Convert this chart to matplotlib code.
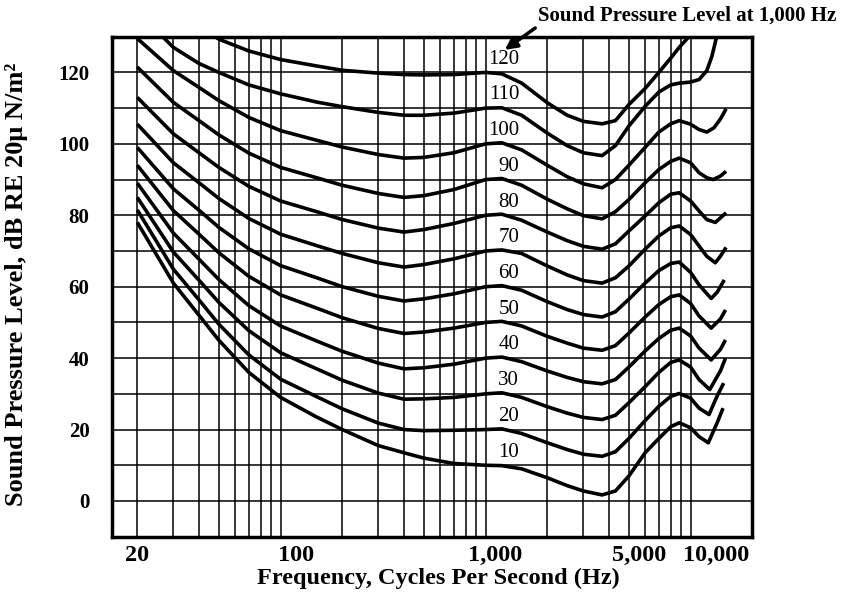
import matplotlib
matplotlib.use("Agg")
import matplotlib.pyplot as plt
from matplotlib.ticker import NullFormatter
from matplotlib.transforms import ScaledTranslation

plt.rcParams["font.family"] = ["Liberation Serif", "DejaVu Serif"]

# frequencies shared by every contour (Hz)
FREQ = [20, 30, 40, 50, 70, 100, 150, 200, 300, 400, 500, 700, 1000, 1200,
        1500, 2000, 2500, 3000, 3700, 4300, 5000, 6000, 7000, 8000, 8800, 10000]

# sound pressure level (dB) of each equal loudness contour at FREQ
spl_120 = [145, 138, 133, 129.3, 126, 123.6, 121.8, 120.6, 119.8, 119.4, 119.3, 119.4, 120,
           119.6, 117, 111.5, 108, 106.3, 105.6, 106.5, 111, 115.5, 120, 124, 127, 130.5]
spl_110 = [137, 127, 122.5, 120, 116.5, 114, 111.7, 110.4, 108.8, 108, 108, 108.6, 110,
           110.1, 108, 103, 99.5, 97.5, 96.7, 99.5, 105, 110.5, 114.5, 116.5, 117, 117.3]
spl_100 = [129.5, 120.5, 115.8, 112.1, 107.4, 103.7, 101, 99.1, 97, 96, 96.2, 97.5, 100,
           100.3, 98.3, 94, 90.8, 88.8, 87.7, 90, 94, 99, 103.3, 105.6, 106.5, 105.5]
spl_090 = [121.5, 111.6, 106.5, 102.5, 97.4, 93.4, 90.5, 88.4, 86.1, 85, 85.5, 87.2, 90,
           90.3, 88.4, 84.5, 81.8, 79.9, 79, 81, 84.4, 89.1, 92.8, 95.1, 96, 94.7]
spl_080 = [113, 102.8, 97.5, 93.4, 88.1, 84, 81, 78.8, 76.4, 75.3, 76, 77.7, 80,
           80.3, 78.6, 75.3, 72.9, 71.3, 70.5, 72, 75.6, 79.8, 83.5, 85.9, 86.3, 84]
spl_070 = [105.5, 94.7, 89.1, 84.7, 79.1, 74.7, 71.5, 69.3, 66.7, 65.5, 66.2, 67.8, 70,
           70.3, 69.3, 65.8, 63.3, 61.7, 61, 62.5, 65.8, 70.5, 74.2, 76.5, 77, 74.6]
spl_060 = [99, 87.4, 81.4, 76.6, 70.6, 65.9, 62.5, 60, 57.3, 56, 56.6, 58, 60,
           60.3, 59, 55.8, 53.6, 52.2, 51.5, 53, 56.5, 61, 64.5, 66.5, 66.9, 64]
spl_050 = [94, 81.3, 74.7, 69.5, 62.9, 57.7, 54, 51.3, 48.3, 46.9, 47.3, 48.4, 50,
           50.3, 49, 46.1, 44.2, 42.8, 42.2, 43.5, 47, 51.5, 55, 57.2, 57.7, 55.3]
spl_040 = [89, 75, 67.7, 62, 54.7, 49, 44.8, 41.9, 38.6, 37, 37.3, 38.3, 40,
           40.3, 39, 36.4, 34.6, 33.4, 32.8, 34, 37.5, 42, 45.5, 47.8, 48.4, 46.2]
spl_030 = [85, 69.7, 61.8, 55.6, 47.7, 41.5, 37, 33.8, 30.2, 28.5, 28.6, 29, 30,
           30.3, 29, 26.4, 24.6, 23.4, 22.8, 24, 27.5, 32, 36, 38.8, 39.5, 37.5]
spl_020 = [81.5, 64.9, 56.3, 49.5, 40.9, 34.1, 29.2, 25.8, 21.8, 20, 19.7, 19.8, 20,
           20.2, 18.9, 16.3, 14.4, 13.1, 12.5, 13.8, 17.5, 22.5, 26.5, 29.3, 30.1, 28.8]
spl_010 = [78, 61, 52, 45, 36, 29, 23.5, 20, 15.5, 13.5, 12, 10.5, 10,
           9.9, 9, 6.5, 4.3, 2.8, 1.7, 2.8, 7, 13.5, 17.5, 20.8, 21.9, 20.5]

# high frequency ends, above 10 kHz
tail_f_120, tail_120 = [11000], [134]
tail_f_110, tail_110 = [11000, 12000, 12700, 13400, 14000], [118, 120.5, 124.5, 130, 134]
tail_f_100, tail_100 = [11000, 12000, 13000, 14000, 14900], [104, 103.3, 104.5, 107, 109.8]
tail_f_090, tail_090 = [11000, 12000, 12900, 14000, 14900], [91.9, 90.5, 90, 91, 92.3]
tail_f_080, tail_080 = [11000, 12000, 13200, 14000, 14900], [81.2, 78.8, 78, 79.3, 80.7]
tail_f_070, tail_070 = [11000, 12000, 13200, 14000, 14900], [71.4, 68.5, 66.7, 68.6, 71]
tail_f_060, tail_060 = [11000, 12600, 13500, 14600], [60.5, 56.7, 58.5, 61.9]
tail_f_050, tail_050 = [11000, 12600, 14000, 14800], [51.8, 48.4, 51, 53.5]
tail_f_040, tail_040 = [11000, 12600, 14000, 14800], [42.8, 39.5, 42.5, 45.1]
tail_f_030, tail_030 = [11000, 12400, 14000, 14800], [34, 31.2, 36.5, 40]
tail_f_020, tail_020 = [11000, 12300, 13500, 14500], [26, 24.2, 29.5, 33]
tail_f_010, tail_010 = [11000, 12200, 13500, 14400], [18, 16.3, 22, 26]

PHONS = [120, 110, 100, 90, 80, 70, 60, 50, 40, 30, 20, 10]

XTICKS = [20, 100, 1000, 5000, 10000]
XTICK_LABELS = ["20", "100", "1,000", "5,000", "10,000"]
XGRID = [20, 30, 40, 50, 60, 70, 80, 90,
         100, 200, 300, 400, 500, 600, 700, 800, 900,
         1000, 2000, 3000, 4000, 5000, 6000, 7000, 8000, 9000, 10000]
YTICKS = [0, 20, 40, 60, 80, 100, 120]
YGRID = [10, 30, 50, 70, 90, 110]

curves = [
    (spl_120, tail_f_120, tail_120), (spl_110, tail_f_110, tail_110),
    (spl_100, tail_f_100, tail_100), (spl_090, tail_f_090, tail_090),
    (spl_080, tail_f_080, tail_080), (spl_070, tail_f_070, tail_070),
    (spl_060, tail_f_060, tail_060), (spl_050, tail_f_050, tail_050),
    (spl_040, tail_f_040, tail_040), (spl_030, tail_f_030, tail_030),
    (spl_020, tail_f_020, tail_020), (spl_010, tail_f_010, tail_010),
]

fig = plt.figure(figsize=(8.42, 5.98), dpi=100)
ax = fig.add_axes([111.7 / 842, 1 - 536.7 / 598, 640.6 / 842, 500 / 598])

for phon, (levels, tail_f, tail_l) in zip(PHONS, curves):
    ax.plot(FREQ + tail_f, levels + tail_l, color="black", lw=2.6,
            solid_joinstyle="round", solid_capstyle="butt", zorder=3)
    ax.text(1460, phon + 3.7, str(phon), ha="right", va="center",
            fontsize=15, zorder=4)

ax.set_xscale("log")
ax.set_xlim(15, 20000)
ax.set_ylim(-10, 130)

ax.set_xticks(XTICKS)
ax.set_xticklabels(XTICK_LABELS, fontsize=17.5, fontweight="bold")
ax.set_xticks(XGRID, minor=True)
ax.xaxis.set_minor_formatter(NullFormatter())
ax.set_yticks(YTICKS)
ax.set_yticklabels([str(v) for v in YTICKS], fontsize=15, fontweight="bold")
ax.set_yticks(YGRID, minor=True)

ax.grid(which="both", color="black", lw=1.1)
ax.tick_params(which="both", length=0)
ax.tick_params(axis="x", pad=6)
ax.tick_params(axis="y", pad=16)
for side in ax.spines.values():
    side.set_linewidth(2.5)

# tick labels of the scan sit a little right of their lines
shifts_px = [0, 15, 10, 10, 26]
for lab, dx in zip(ax.get_xticklabels(), shifts_px):
    lab.set_transform(lab.get_transform() + ScaledTranslation(dx / 100, 0, fig.dpi_scale_trans))

ax.set_xlabel("Frequency, Cycles Per Second (Hz)", fontsize=17.5, fontweight="bold", va="center")
ax.xaxis.set_label_coords(0.51, -0.083)
ax.set_ylabel("Sound Pressure Level, dB RE 20\u03bc N/m\u00b2", fontsize=19,
              fontweight="bold", va="center")
ax.yaxis.set_label_coords(-0.148, 0.505)

ax.annotate("Sound Pressure Level at 1,000 Hz", xy=(1240, 126.3), xycoords="data",
            xytext=(538, 598 - 16), textcoords="figure pixels",
            ha="left", va="center", fontsize=15, fontweight="bold",
            annotation_clip=False,
            arrowprops=dict(arrowstyle="-|>", color="black", lw=2.5,
                            mutation_scale=18, relpos=(0, 0), shrinkA=0, shrinkB=0))

fig.savefig("out.png", dpi=100)
